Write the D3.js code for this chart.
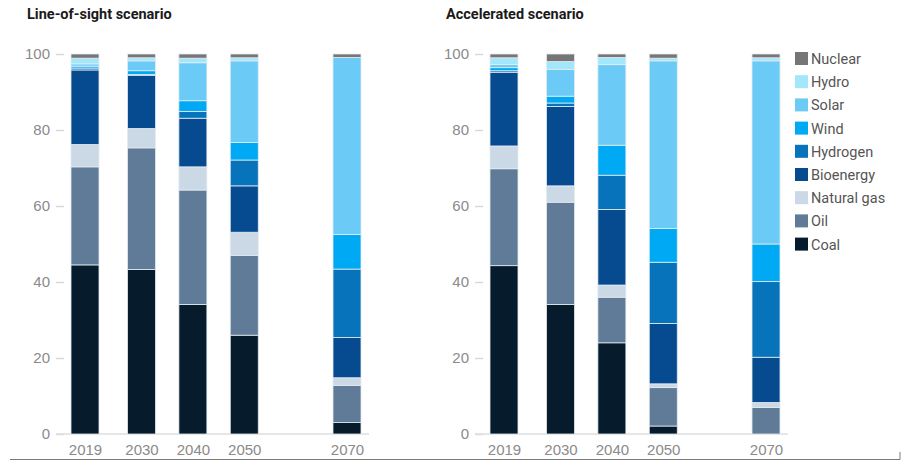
<!DOCTYPE html>
<html>
<head>
<meta charset="utf-8">
<script src="https://cdn.jsdelivr.net/npm/d3@7"></script>
<style>
  body { margin: 0; background: #fff; }
  svg { display: block; font-family: Roboto, "Liberation Sans", sans-serif; }
</style>
</head>
<body>
<svg id="chart" width="903" height="463"></svg>
<script>
// years on the x axis (linear time scale, 2060 left empty)
var years = [2019, 2030, 2040, 2050, 2070];
var yTicks = [0, 20, 40, 60, 80, 100];

// stack order bottom -> top
var seriesNames = ["Coal", "Oil", "Natural gas", "Bioenergy", "Hydrogen", "Wind", "Solar", "Hydro", "Nuclear"];
var seriesColors = ["#061c2c", "#5f7b97", "#cbd8e5", "#064b8f", "#0673bb", "#00a9f4", "#6ccbf6", "#a3e7fd", "#767676"];

// Line-of-sight scenario, % share per year
var losCoal     = [44.5, 43.3, 34.1, 26.0, 3.0];
var losOil      = [25.8, 32.0, 30.1, 21.0, 9.8];
var losGas      = [5.9, 5.1, 6.1, 6.1, 2.0];
var losBio      = [19.6, 14.0, 12.8, 12.2, 10.6];
var losHydrogen = [0.5, 0.2, 1.8, 6.8, 18.0];
var losWind     = [0.5, 1.0, 2.8, 4.6, 9.1];
var losSolar    = [0.6, 2.6, 10.0, 21.5, 46.6];
var losHydro    = [1.5, 0.8, 1.2, 0.8, 0.0];
var losNuclear  = [1.1, 1.0, 1.1, 1.0, 0.9];

// Accelerated scenario
var accCoal     = [44.3, 34.1, 24.0, 2.1, 0.0];
var accOil      = [25.5, 26.9, 12.0, 10.1, 7.0];
var accGas      = [6.0, 4.3, 3.2, 1.0, 1.3];
var accBio      = [19.4, 20.9, 19.9, 15.9, 11.9];
var accHydrogen = [0.4, 0.9, 9.0, 16.1, 19.9];
var accWind     = [0.8, 1.8, 7.9, 8.9, 9.9];
var accSolar    = [0.8, 7.0, 21.2, 44.1, 48.2];
var accHydro    = [1.8, 2.1, 1.9, 0.7, 0.8];
var accNuclear  = [1.0, 2.0, 0.9, 1.1, 1.0];

function buildRows(cols) {
  return years.map(function(yr, i) {
    var row = { year: yr };
    seriesNames.forEach(function(name, k) { row[name] = cols[k][i]; });
    return row;
  });
}

var losRows = buildRows([losCoal, losOil, losGas, losBio, losHydrogen, losWind, losSolar, losHydro, losNuclear]);
var accRows = buildRows([accCoal, accOil, accGas, accBio, accHydrogen, accWind, accSolar, accHydro, accNuclear]);

var svg = d3.select("#chart");
var color = d3.scaleOrdinal().domain(seriesNames).range(seriesColors);
var y = d3.scaleLinear().domain([0, 100]).range([434, 54]);
var barW = 28;

function drawPanel(left, title, rows) {
  var g = svg.append("g").attr("transform", "translate(" + left + ",0)");
  var x = d3.scaleLinear().domain([2019, 2070]).range([85, 347]);

  g.append("text")
    .attr("x", 27).attr("y", 19)
    .attr("font-size", 14.5).attr("font-weight", "bold").attr("fill", "#1a1a1a")
    .text(title);

  // y axis: short gray dashes + labels
  var yAxis = d3.axisLeft(y).tickValues(yTicks).tickSize(8).tickPadding(6);
  var ya = g.append("g").attr("transform", "translate(64,0)").call(yAxis);
  ya.select(".domain").remove();
  ya.selectAll("line").attr("stroke", "#d9d9d9").attr("stroke-width", 1.5);
  ya.selectAll("text").attr("font-size", 15).attr("fill", "#8a8a8a").attr("font-family", null);

  // baseline
  g.append("line")
    .attr("x1", 56).attr("x2", 369)
    .attr("y1", y(0)).attr("y2", y(0))
    .attr("stroke", "#dedede").attr("stroke-width", 1.5);

  var stack = d3.stack().keys(seriesNames);
  var layers = stack(rows);

  g.selectAll("g.layer").data(layers).enter().append("g")
    .attr("class", "layer")
    .attr("fill", function(d) { return color(d.key); })
    .selectAll("rect").data(function(d) { return d.filter(function(p) { return p[1] - p[0] > 0; }); })
    .enter().append("rect")
      .attr("x", function(d) { return x(d.data.year) - barW / 2; })
      .attr("width", barW)
      .attr("y", function(d) { return y(d[1]); })
      .attr("height", function(d) { return y(d[0]) - y(d[1]); })
      .attr("stroke", "#e4ebf1")
      .attr("stroke-width", 0.8);

  // x labels
  var xAxis = d3.axisBottom(x).tickValues(years).tickFormat(d3.format("d")).tickSize(0).tickPadding(10);
  var xa = g.append("g").attr("transform", "translate(0," + y(0) + ")").call(xAxis);
  xa.select(".domain").remove();
  xa.selectAll("text").attr("font-size", 15).attr("fill", "#8a8a8a").attr("font-family", null);
}

drawPanel(0, "Line-of-sight scenario", losRows);
drawPanel(419, "Accelerated scenario", accRows);

// legend, top item = Nuclear
var legendItems = seriesNames.slice().reverse();
var legend = svg.append("g").attr("transform", "translate(795,52)");
var li = legend.selectAll("g").data(legendItems).enter().append("g")
  .attr("transform", function(d, i) { return "translate(0," + (i * 23.2) + ")"; });
li.append("rect").attr("width", 13).attr("height", 13).attr("fill", function(d) { return color(d); });
li.append("text").attr("x", 16).attr("y", 12)
  .attr("font-size", 14.5).attr("fill", "#555").text(function(d) { return d; });

// frame line at the bottom
svg.append("line").attr("x1", 10).attr("x2", 900).attr("y1", 459.5).attr("y2", 459.5)
  .attr("stroke", "#7a7a7a").attr("stroke-width", 1);
svg.append("line").attr("x1", 900).attr("x2", 900).attr("y1", 452).attr("y2", 459.5)
  .attr("stroke", "#7a7a7a").attr("stroke-width", 1);
</script>
</body>
</html>
